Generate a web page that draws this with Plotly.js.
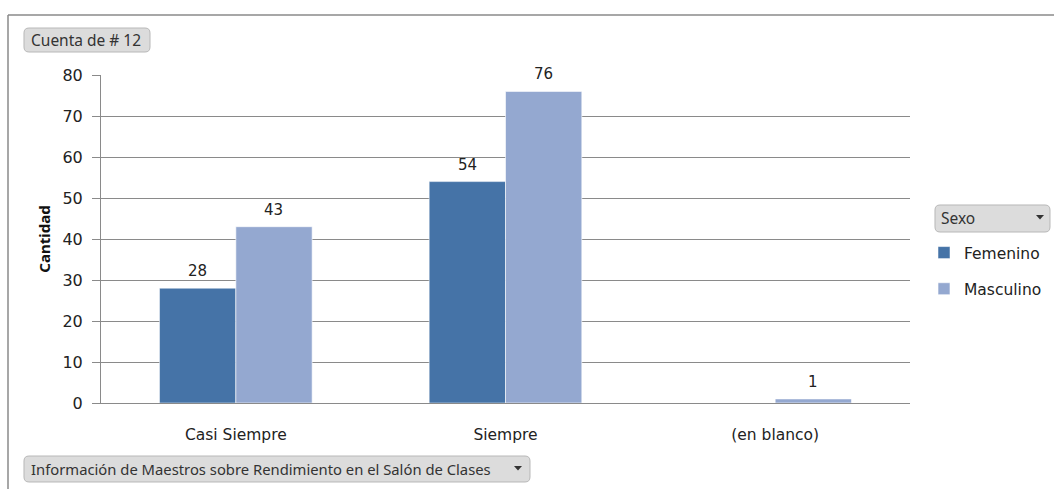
<!DOCTYPE html>
<html><head><meta charset="utf-8">
<script src="https://cdn.plot.ly/plotly-3.0.1.min.js"></script>
<style>html,body{margin:0;padding:0;background:#fff;}#chart{width:1054px;height:489px;}</style>
</head><body><div id="chart"></div>
<script>
const categories = ["Casi Siempre", "Siempre", "(en blanco)"];
const femenino = [28, 54, null];
const masculino = [43, 76, 1];
const seriesNames = ["Femenino", "Masculino"];
const yTicks = [0, 10, 20, 30, 40, 50, 60, 70, 80];

const W = 1054, H = 489;
const M = {l: 101, r: 144, t: 75, b: 86, autoexpand: false};
const pw = W - M.l - M.r, ph = H - M.t - M.b;
const px = x => (x - M.l) / pw;
const py = y => (H - M.b - y) / ph;

function roundRect(x0, y0, x1, y1, r) {
  const P = (x, y) => px(x).toFixed(5) + "," + py(y).toFixed(5);
  return "M" + P(x0 + r, y0) + " L" + P(x1 - r, y0) + " Q" + P(x1, y0) + " " + P(x1, y0 + r) +
    " L" + P(x1, y1 - r) + " Q" + P(x1, y1) + " " + P(x1 - r, y1) +
    " L" + P(x0 + r, y1) + " Q" + P(x0, y1) + " " + P(x0, y1 - r) +
    " L" + P(x0, y0 + r) + " Q" + P(x0, y0) + " " + P(x0 + r, y0) + " Z";
}
function tri(cx, cy) {
  const P = (x, y) => px(x).toFixed(5) + "," + py(y).toFixed(5);
  return "M" + P(cx - 4, cy - 2) + " L" + P(cx + 4, cy - 2) + " L" + P(cx, cy + 2.5) + " Z";
}

const font = "DejaVu Sans, Noto Sans, sans-serif";
const font2 = "Noto Sans, DejaVu Sans, sans-serif";
const txt = "#222";
const colF = "#4573A7", colM = "#94A8D0";

const traces = [
  {type: "bar", name: seriesNames[0], x: categories, y: femenino, marker: {color: colF, line: {color: "rgba(255,255,255,0.5)", width: 1}}, legendgroup: "f"},
  {type: "bar", name: seriesNames[1], x: categories, y: masculino, marker: {color: colM, line: {color: "rgba(255,255,255,0.6)", width: 1}}, legendgroup: "m"}
];

const annotations = [];
[femenino, masculino].forEach((arr, si) => {
  arr.forEach((v, i) => {
    if (v === null) return;
    annotations.push({x: categories[i], y: v, xref: "x", yref: "y", text: String(v), showarrow: false,
      xshift: si === 0 ? -38 : 38, yanchor: "bottom", yshift: 6, font: {family: font, size: 15, color: txt}});
  });
});

const shapes = [
  {type: "line", xref: "paper", yref: "paper", x0: px(8), x1: px(1054), y0: py(15), y1: py(15), line: {color: "#8a8a8a", width: 1.5}},
  {type: "line", xref: "paper", yref: "paper", x0: px(8), x1: px(8), y0: py(15), y1: py(489), line: {color: "#8a8a8a", width: 1.5}},
  {type: "path", xref: "paper", yref: "paper", path: roundRect(24, 28, 150, 52, 5), fillcolor: "#dcdcdc", line: {color: "#b8b8b8", width: 1}},
  {type: "path", xref: "paper", yref: "paper", path: roundRect(24, 456, 530, 482, 5), fillcolor: "#dcdcdc", line: {color: "#b8b8b8", width: 1}},
  {type: "path", xref: "paper", yref: "paper", path: tri(518, 468), fillcolor: "#333", line: {width: 0}},
  {type: "path", xref: "paper", yref: "paper", path: roundRect(935, 205, 1050, 232, 5), fillcolor: "#dcdcdc", line: {color: "#b8b8b8", width: 1}},
  {type: "path", xref: "paper", yref: "paper", path: tri(1040, 217), fillcolor: "#333", line: {width: 0}}
];

annotations.push(
  {xref: "paper", yref: "paper", x: px(29), y: py(40), xanchor: "left", yanchor: "middle", text: "Cuenta de # 12", showarrow: false, font: {family: font2, size: 15.5, color: "#333"}},
  {xref: "paper", yref: "paper", x: px(29), y: py(469), xanchor: "left", yanchor: "middle", text: "Información de Maestros sobre Rendimiento en el Salón de Clases", showarrow: false, font: {family: font2, size: 14.8, color: "#333"}},
  {xref: "paper", yref: "paper", x: px(939), y: py(218), xanchor: "left", yanchor: "middle", text: "Sexo", showarrow: false, font: {family: font2, size: 15.5, color: "#333"}}
);

const layout = {
  width: W, height: H,
  margin: M,
  paper_bgcolor: "#fff", plot_bgcolor: "#fff",
  barmode: "group", bargap: 0.434, bargroupgap: 0,
  font: {family: font, size: 14, color: txt},
  showlegend: true,
  legend: {x: px(924), y: py(236), xanchor: "left", yanchor: "top", xref: "paper", yref: "paper",
    font: {family: font, size: 15.5, color: txt}, tracegroupgap: 13, traceorder: "grouped", itemwidth: 30, bgcolor: "rgba(0,0,0,0)"},
  xaxis: {type: "category", showgrid: false, showline: true, linecolor: "#8a8a8a", linewidth: 1,
    ticks: "", ticklabelstandoff: 17, tickfont: {family: font, size: 15.5, color: txt}, zeroline: false, fixedrange: true},
  yaxis: {range: [0, 80], tickvals: yTicks, showgrid: true, gridcolor: "#8a8a8a", gridwidth: 1,
    showline: true, linecolor: "#8a8a8a", linewidth: 1, ticks: "outside", ticklen: 8, tickcolor: "#8a8a8a",
    ticklabelstandoff: 6, tickfont: {family: font, size: 16, color: txt}, zeroline: false, fixedrange: true,
    title: {text: "<b>Cantidad</b>", font: {family: font2, size: 15, color: "#111"}, standoff: 8}},
  shapes: shapes,
  annotations: annotations
};

Plotly.newPlot("chart", traces, layout, {displayModeBar: false, staticPlot: true});
</script>
</body></html>
